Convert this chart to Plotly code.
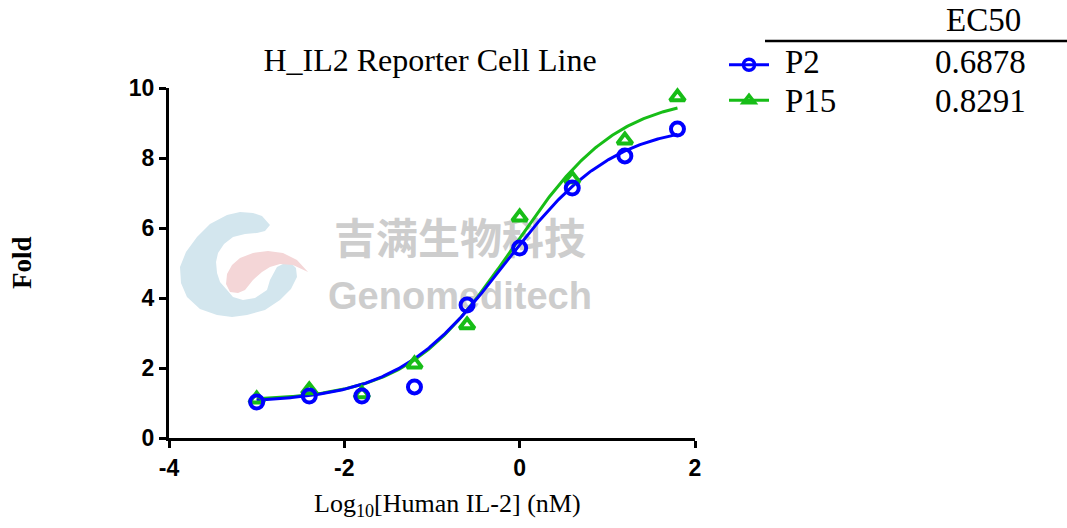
import numpy as np
import plotly.graph_objects as go

# ---------------- data ----------------
log_conc = [-3.0, -2.4, -1.8, -1.2, -0.6, 0.0, 0.6, 1.2, 1.8]
p2_fold = [1.03, 1.20, 1.20, 1.46, 3.80, 5.43, 7.14, 8.06, 8.83]
p15_fold = [1.11, 1.37, 1.26, 2.11, 3.23, 6.31, 7.40, 8.51, 9.74]

series_names = ["P2", "P15"]
ec50_values = [0.6878, 0.8291]
# 4PL fit parameters (bottom, top, hill); EC50 from the table
fit_bottom = [1.00, 1.05]
fit_top = [9.00, 9.80]
fit_hill = [0.70, 0.72]

x_ticks = [-4, -2, 0, 2]
x_tick_labels = ["-4", "-2", "0", "2"]
y_ticks = [0, 2, 4, 6, 8, 10]
y_tick_labels = ["0", "2", "4", "6", "8", "10"]

colors = ["#0000ff", "#17bd17"]
symbols = ["circle-open", "triangle-up-open"]
series_values = [p2_fold, p15_fold]

# ---------------- geometry helpers ----------------
L, R, T, B = 169, 372, 88, 90
W, H = 1067, 528
PW, PH = W - L - R, H - T - B


def px(xp):
    return (xp - L) / PW


def py(yp):
    return (H - B - yp) / PH


def path_from_px(points):
    return "M " + " L ".join(f"{px(a):.4f},{py(b):.4f}" for a, b in points) + " Z"


fig = go.Figure()

# fitted curves + points (green first, blue on top)
xfit = np.linspace(min(log_conc), max(log_conc), 300)
for i in [1, 0]:
    logec = np.log10(ec50_values[i])
    yfit = fit_bottom[i] + (fit_top[i] - fit_bottom[i]) / (1 + 10 ** (fit_hill[i] * (logec - xfit)))
    fig.add_trace(go.Scatter(x=xfit, y=yfit, mode="lines",
                             line=dict(color=colors[i], width=3),
                             showlegend=False, hoverinfo="skip", cliponaxis=False))
for i in [1, 0]:
    fig.add_trace(go.Scatter(x=log_conc, y=series_values[i], mode="markers",
                             marker=dict(symbol=symbols[i], size=13,
                                         color=colors[i], line=dict(width=4, color=colors[i])),
                             showlegend=False, cliponaxis=False))
# legend symbols (names drawn as annotations so row spacing can match)
for i in [0, 1]:
    fig.add_trace(go.Scatter(x=[None], y=[None], mode="lines+markers", name=" ",
                             line=dict(color=colors[i], width=3),
                             marker=dict(symbol=symbols[i], size=11 if i == 0 else 10,
                                         color=colors[i], line=dict(width=3.5, color=colors[i]))))

# ---------------- watermark (below traces) ----------------
blue_logo = [(270, 225), (262, 216), (253, 213), (240, 212), (227, 215), (210, 224), (197, 237),
             (186, 252), (180, 267), (181, 283), (187, 297), (200, 309), (217, 315), (232, 317),
             (247, 315), (265, 310), (280, 300), (291, 289), (297, 277), (296, 268), (292, 264),
             (285, 263), (277, 267), (270, 280), (267, 290), (255, 298), (243, 300), (233, 297),
             (227, 290), (220, 282), (217, 273), (216, 262), (218, 253), (224, 244), (233, 237),
             (245, 234), (257, 233), (265, 231)]
pink_logo = [(232, 265), (240, 258), (253, 253), (268, 251), (283, 253), (297, 260), (308, 272),
             (293, 265), (280, 264), (270, 267), (262, 272), (253, 280), (245, 290), (238, 293),
             (230, 292), (226, 284), (227, 274)]
shapes = [
    dict(type="path", xref="paper", yref="paper", path=path_from_px(blue_logo),
         fillcolor="#d3e6ee", line=dict(width=0), layer="below"),
    dict(type="path", xref="paper", yref="paper", path=path_from_px(pink_logo),
         fillcolor="#f4d6d7", line=dict(width=0), layer="below"),
    dict(type="rect", xref="paper", yref="paper", x0=px(320), x1=px(600), y0=py(262), y1=py(222),
         line=dict(width=0), fillcolor="rgba(0,0,0,0)", layer="below",
         label=dict(text="吉满生物科技", textposition="middle center",
                    font=dict(family="Noto Sans CJK SC", size=42, color="#cdcdcd", weight="bold"))),
    dict(type="rect", xref="paper", yref="paper", x0=px(320), x1=px(600), y0=py(306), y1=py(278),
         line=dict(width=0), fillcolor="rgba(0,0,0,0)", layer="below",
         label=dict(text="Genomeditech", textposition="middle center",
                    font=dict(family="Liberation Sans", size=38, color="#cdcdcd", weight="bold"))),
    # table rule under EC50
    dict(type="line", xref="paper", yref="paper", x0=px(765), x1=px(1067), y0=py(41), y1=py(41),
         line=dict(color="black", width=2.5)),
]

serif = "Liberation Serif"
annotations = [
    dict(text="Log<sub>10</sub>[Human IL-2] (nM)", x=px(447), y=py(505), xref="paper", yref="paper",
         showarrow=False, font=dict(family=serif, size=26, color="black"), xanchor="center", yanchor="middle"),
    dict(text="<b>Fold</b>", x=px(22), y=py(263), xref="paper", yref="paper", textangle=-90,
         showarrow=False, font=dict(family=serif, size=27, color="black"), xanchor="center", yanchor="middle"),
    dict(text="EC50", x=px(983), y=py(20), xref="paper", yref="paper", showarrow=False,
         font=dict(family=serif, size=33, color="black"), xanchor="center", yanchor="middle"),
]
for i, v in enumerate(ec50_values):
    annotations.append(dict(text=series_names[i], x=px(783), y=py(62 + 39 * i), xref="paper", yref="paper",
                            showarrow=False, font=dict(family=serif, size=33, color="black"),
                            xanchor="left", yanchor="middle"))
    annotations.append(dict(text=f"{v:.4f}", x=px(933), y=py(62 + 39 * i), xref="paper", yref="paper",
                            showarrow=False, font=dict(family=serif, size=33, color="black"),
                            xanchor="left", yanchor="middle"))

axis_common = dict(showline=True, linewidth=3, linecolor="black", ticks="outside", ticklen=7,
                   tickwidth=3, tickcolor="black", showgrid=False, zeroline=False,
                   tickfont=dict(family="Liberation Sans", size=23, color="black", weight="bold"))

fig.update_layout(
    width=W, height=H,
    margin=dict(l=L, r=R, t=T, b=B),
    plot_bgcolor="white", paper_bgcolor="white",
    title=dict(text="H_IL2 Reporter Cell Line", x=px(430), xanchor="center", xref="paper",
               y=1 - 60 / H, yref="container", yanchor="middle",
               font=dict(family=serif, size=32, color="black")),
    xaxis=dict(range=[-4, 2], tickvals=x_ticks, ticktext=x_tick_labels, **axis_common),
    yaxis=dict(range=[0, 10], tickvals=y_ticks, ticktext=y_tick_labels, **axis_common),
    shapes=shapes,
    annotations=annotations,
    legend=dict(x=px(724), y=py(42), xanchor="left", yanchor="top", xref="paper", yref="paper",
                font=dict(family=serif, size=25, color="black"), bgcolor="rgba(0,0,0,0)",
                itemwidth=40, tracegroupgap=0),
    showlegend=True,
)

fig.write_html("out.html", config={"displayModeBar": False},
               post_script="document.body.style.margin='0';")
